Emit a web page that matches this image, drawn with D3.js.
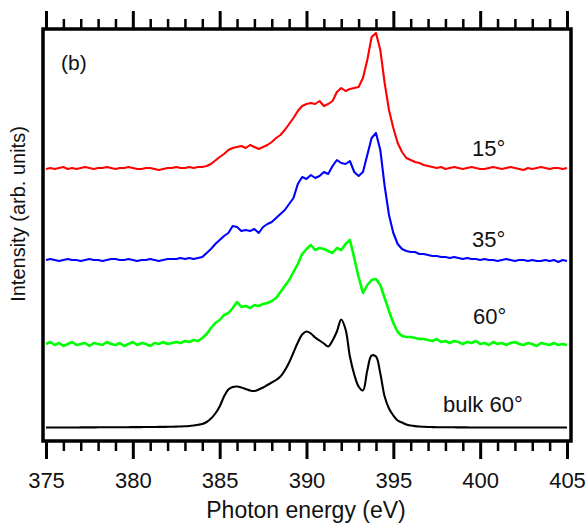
<!DOCTYPE html>
<html>
<head>
<meta charset="utf-8">
<script src="https://cdn.jsdelivr.net/npm/d3@7"></script>
<style>
  html, body { margin: 0; padding: 0; background: #fff; }
  svg { display: block; font-family: "Liberation Sans", Arial, Helvetica, sans-serif; }
</style>
</head>
<body>
<svg id="chart" width="588" height="524"></svg>
<script>
// ---------- data ----------
// photon energy sampling grid (eV), 0.25 eV steps from 375 to 405
const energy = d3.range(0, 121).map(i => 375 + i * 0.25);

const seriesNames  = ["15°", "35°", "60°", "bulk 60°"];
const seriesColors = ["#ff0000", "#0000ff", "#00ff00", "#000000"];
// vertical offsets of each stacked spectrum (arb. units)
const seriesOffsets = [273, 181, 97, 13.5];

// intensities above each offset (arb. units)
const red15 = [
  -1, 0, -1, 0, 1, -1, 0, -1, 0, 1, 0, -1, 0, 0, 1, 0, -1, 0, 0, 1, 0, -1, -1, 0, 0, -1, -2, -1, 0, 0, 1, 0, 0, 1, 0, 1,
  1, 2, 4, 7.5,  11, 14, 18, 20,  21, 22, 20, 23,  21, 19, 21, 23,  26, 30, 33, 38,  44, 50, 57, 62,
  64, 65, 64, 67,  62, 64, 67, 76,  80, 77, 79, 80,  81, 90, 108, 131,  135, 118, 85, 58,  40, 25, 16, 10,  8, 6, 5, 3,
  2, 1, 0, 1, -1, 0, 1, 0, -1, 0, 1, 0, -1, -1, 0, 1, 0, -1, 0, 1, 0, -1, -2, 0, -1, 0, 1, 0, -1, 0, 0, -1, 0
];
const blue35 = [
  0, 1, 0, -1, 0, 1, 0, 0, -1, 0, 1, 0, 0, -1, 0, 1, 1, 0, 0, 1, 0, -1, 0, 0, 1, 0, -1, 0, 1, 1, 1, 2, 1, 2, 1, 2,
  3, 7, 11, 16,  20, 24, 27, 34,  33, 29, 30, 29,  31, 27, 33, 36,  38, 42, 46, 50,  56, 62, 76, 83,
  81, 85, 82, 84,  88, 86, 94, 100,  97, 96, 99, 88,  84, 88, 105, 122,  127, 110, 74, 45,  27, 16, 11, 9,  8, 8, 6, 6,
  5, 4, 4, 3, 3, 2, 3, 2, 1, 2, 1, 1, 0, 1, 0, 0, -1, 0, 1, 0, -1, 0, 0, -1, 0, -1, -1, 0, -1, 0, -2, 0, -1
];
const green60 = [
  0, 2, -1, 1, -2, 0, 2, -1, 0, 1, -2, 1, 0, -1, 2, 0, -1, 1, -2, 0, 2, -1, 1, 0, -2, 1, 0, 2, 0, 1, 2, 1, 3, 2, 4, 3,
  6, 10, 16, 21,  24, 29, 31, 36,  42, 37, 38, 36,  39, 38, 40, 41,  43, 46, 52, 58,  64, 72, 80, 90,
  95, 99, 94, 96,  95, 93, 91, 96,  94, 100, 104, 86,  67, 51, 59, 64,  65, 59, 46, 33,  21, 12, 8, 7,  7, 6, 5, 5,
  4, 3, 5, 2, 3, 1, 3, 2, 0, 2, 1, 3, 0, 1, -1, 2, 0, 1, -1, 1, 2, 0, -1, 1, 0, -2, 1, 0, -1, 1, -1, 0, -1
];
const bulk60 = [
  0, 0, 0, 0, 0, 0, 0, 0, 0.1, 0.1, 0.1, 0.1, 0.2, 0.2, 0.2, 0.2, 0.3, 0.3, 0.3, 0.3, 0.4, 0.4, 0.4, 0.5, 0.5, 0.5, 0.6, 0.6, 0.7, 0.8, 0.9, 1, 1.2, 1.5, 2, 2.7,
  3.5, 5.5, 9, 14,  21, 31, 38, 40.5,  41, 40, 38.5, 37,  36.5, 38, 40, 42.5,  45, 47.5, 51, 57,  65, 75, 85, 93,
  96, 94, 90, 87,  84, 81, 87, 96,  108, 98, 71, 53,  41, 37, 57, 72,  71, 54, 31, 19,  12, 7, 5, 3,  2, 1.4, 1, 0.7,
  0.5, 0.4, 0.3, 0.3, 0.2, 0.2, 0.2, 0.1, 0.1, 0.1, 0, 0, 0, 0, 0, 0, 0, 0, 0, 0, 0, 0, 0, 0, 0, 0, 0, 0, 0, 0, 0, 0, 0
];
const seriesValues = [red15, blue35, green60, bulk60];

const majorTicks = [375, 380, 385, 390, 395, 400, 405];
const minorTicks = d3.range(375, 406, 1).filter(v => v % 5 !== 0);
const xTitle = "Photon energy (eV)";
const yTitle = "Intensity (arb. units)";
const panelLabel = "(b)";

// ---------- layout ----------
const svg = d3.select("#chart");
const box = { left: 43, right: 571, top: 29, bottom: 441 };
const x = d3.scaleLinear().domain([375, 405]).range([46, 567]);
const y = d3.scaleLinear().domain([0, 412]).range([441, 29]);

// ---------- spectra ----------
seriesValues.forEach((vals, k) => {
  const pts = energy.map((e, i) => [e, vals[i] + seriesOffsets[k]]);
  const line = d3.line()
    .x(d => x(d[0]))
    .y(d => y(d[1]))
    .curve(k === 3 ? d3.curveCatmullRom : d3.curveLinear);
  svg.append("path")
    .datum(pts)
    .attr("d", line)
    .attr("fill", "none")
    .attr("stroke", seriesColors[k])
    .attr("stroke-width", k === 2 ? 2.6 : 2.1)
    .attr("stroke-linejoin", "round");
});

// ---------- axes ----------
function styleAxis(g) {
  g.select(".domain").remove();
  g.selectAll(".tick line").attr("stroke", "#000");
}
// bottom
const gBotMinor = svg.append("g").attr("transform", `translate(0,${box.bottom})`)
  .call(d3.axisBottom(x).tickValues(minorTicks).tickSize(10).tickFormat(""));
styleAxis(gBotMinor);
gBotMinor.selectAll(".tick line").attr("stroke-width", 2.5);
const gBot = svg.append("g").attr("transform", `translate(0,${box.bottom})`)
  .call(d3.axisBottom(x).tickValues(majorTicks).tickSize(18).tickFormat(d3.format("d")));
styleAxis(gBot);
gBot.selectAll(".tick line").attr("stroke-width", 3);
gBot.selectAll(".tick text")
  .attr("y", 47).attr("dy", 0)
  .attr("font-size", 22)
  .attr("font-family", "Liberation Sans, Arial, sans-serif")
  .attr("fill", "#111");
// top (mirror, no labels)
const gTopMinor = svg.append("g").attr("transform", `translate(0,${box.top})`)
  .call(d3.axisTop(x).tickValues(minorTicks).tickSize(10).tickFormat(""));
styleAxis(gTopMinor);
gTopMinor.selectAll(".tick line").attr("stroke-width", 2.5);
const gTop = svg.append("g").attr("transform", `translate(0,${box.top})`)
  .call(d3.axisTop(x).tickValues(majorTicks).tickSize(18).tickFormat(""));
styleAxis(gTop);
gTop.selectAll(".tick line").attr("stroke-width", 3);

// frame
svg.append("rect")
  .attr("x", box.left).attr("y", box.top)
  .attr("width", box.right - box.left).attr("height", box.bottom - box.top)
  .attr("fill", "none").attr("stroke", "#000").attr("stroke-width", 3.5);

// ---------- text ----------
svg.append("text")
  .attr("x", 306).attr("y", 518)
  .attr("text-anchor", "middle")
  .attr("font-size", 23).attr("fill", "#111")
  .text(xTitle);
svg.append("text")
  .attr("transform", "translate(25,214) rotate(-90)")
  .attr("text-anchor", "middle")
  .attr("font-size", 20).attr("fill", "#111")
  .text(yTitle);
svg.append("text")
  .attr("x", 61).attr("y", 70)
  .attr("font-size", 21).attr("fill", "#111")
  .text(panelLabel);

const labelPos = [[472, 156], [472, 247], [473, 324], [443, 412]];
seriesNames.forEach((name, k) => {
  svg.append("text")
    .attr("x", labelPos[k][0]).attr("y", labelPos[k][1])
    .attr("font-size", 22).attr("fill", "#111")
    .text(name);
});
</script>
</body>
</html>
